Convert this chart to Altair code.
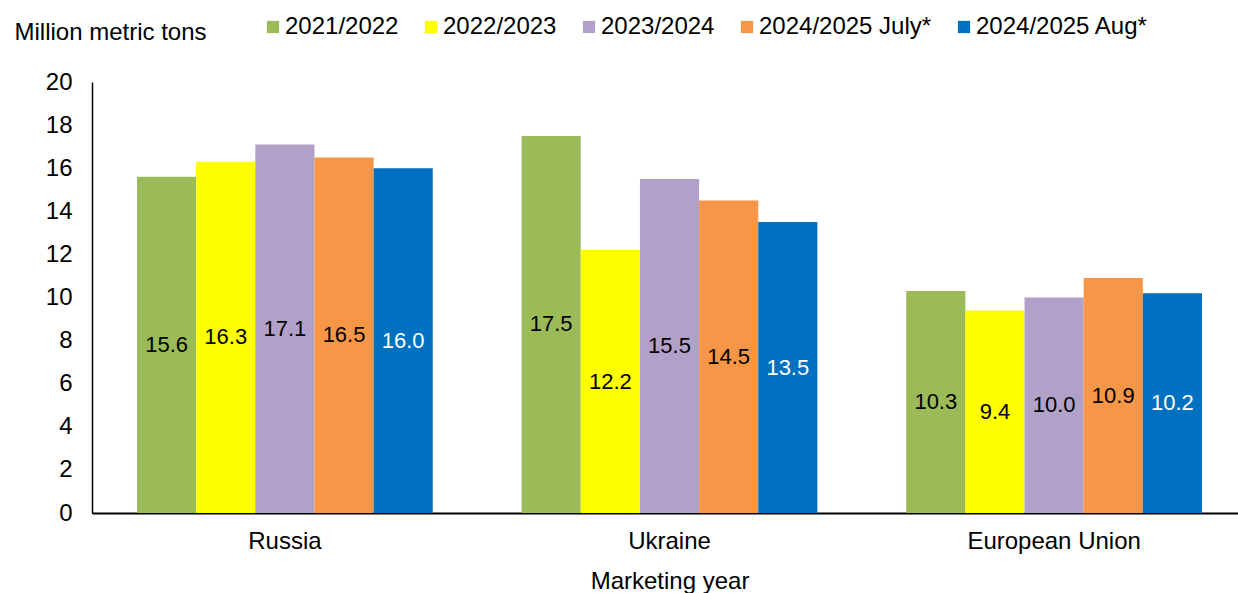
import altair as alt
import pandas as pd

regions = ["Russia", "Ukraine", "European Union"]
series = ["2021/2022", "2022/2023", "2023/2024", "2024/2025 July*", "2024/2025 Aug*"]
colors = ["#9BBB59", "#FFFF00", "#B1A0C7", "#F79646", "#0070C0"]
values = {
    "2021/2022": [15.6, 17.5, 10.3],
    "2022/2023": [16.3, 12.2, 9.4],
    "2023/2024": [17.1, 15.5, 10.0],
    "2024/2025 July*": [16.5, 14.5, 10.9],
    "2024/2025 Aug*": [16.0, 13.5, 10.2],
}

rows = []
for s in series:
    for r, v in zip(regions, values[s]):
        rows.append({"region": r, "series": s, "value": v})
df = pd.DataFrame(rows)

FONT = "Liberation Sans"
FS = 24
LFS = 22

xscale = alt.Scale(paddingInner=0.231, paddingOuter=0.117, range=[0, 1155])

x_enc = alt.X(
    "region:N",
    sort=regions,
    title="Marketing year",
    scale=xscale,
    axis=alt.Axis(
        labelAngle=0,
        ticks=False,
        domainColor="black",
        domainWidth=2,
        labelFontSize=FS,
        labelColor="black",
        labelPadding=16,
        titleFontSize=FS,
        titleFontWeight="normal",
        titleColor="black",
        titlePadding=16,
    ),
)
xoff = alt.XOffset("series:N", sort=series, scale=alt.Scale(paddingInner=0, paddingOuter=0))

base = alt.Chart(df)

bars = base.mark_bar().encode(
    x=x_enc,
    xOffset=xoff,
    y=alt.Y(
        "value:Q",
        scale=alt.Scale(domain=[0, 20]),
        axis=alt.Axis(
            values=list(range(0, 21, 2)),
            grid=False,
            ticks=False,
            domainColor="black",
            domainWidth=1.5,
            labelFontSize=FS,
            labelColor="black",
            labelPadding=20,
            title="Million metric tons",
            titleAngle=0,
            titleAlign="left",
            titleBaseline="middle",
            titleX=-78,
            titleY=-50,
            titleFontSize=FS,
            titleFontWeight="normal",
            titleColor="black",
        ),
    ),
    color=alt.Color(
        "series:N",
        sort=series,
        scale=alt.Scale(domain=series, range=colors),
        legend=alt.Legend(
            title=None,
            orient="none",
            direction="horizontal",
            legendX=169,
            legendY=-67,
            symbolType="square",
            symbolSize=150,
            symbolStrokeWidth=0,
            labelFontSize=FS,
            labelColor="black",
            labelOffset=0,
            labelLimit=400,
            columnPadding=20,
        ),
    ),
)

labels = base.mark_text(fontSize=LFS, font=FONT).encode(
    x=alt.X("region:N", sort=regions, scale=xscale),
    xOffset=xoff,
    y=alt.Y("mid:Q"),
    text=alt.Text("value:Q", format=".1f"),
    color=alt.condition(alt.datum.series == "2024/2025 Aug*", alt.value("white"), alt.value("black")),
).transform_calculate(mid="datum.value / 2")

chart = (
    alt.layer(bars, labels)
    .properties(
        width=1146,
        height=431,
        autosize=alt.AutoSizeParams(type="none"),
        padding={"left": 92, "top": 82, "right": 0, "bottom": 80},
    )
    .configure(font=FONT)
    .configure_view(stroke=None)
)

chart.save("out.html", embed_options={"renderer": "svg", "actions": False})
